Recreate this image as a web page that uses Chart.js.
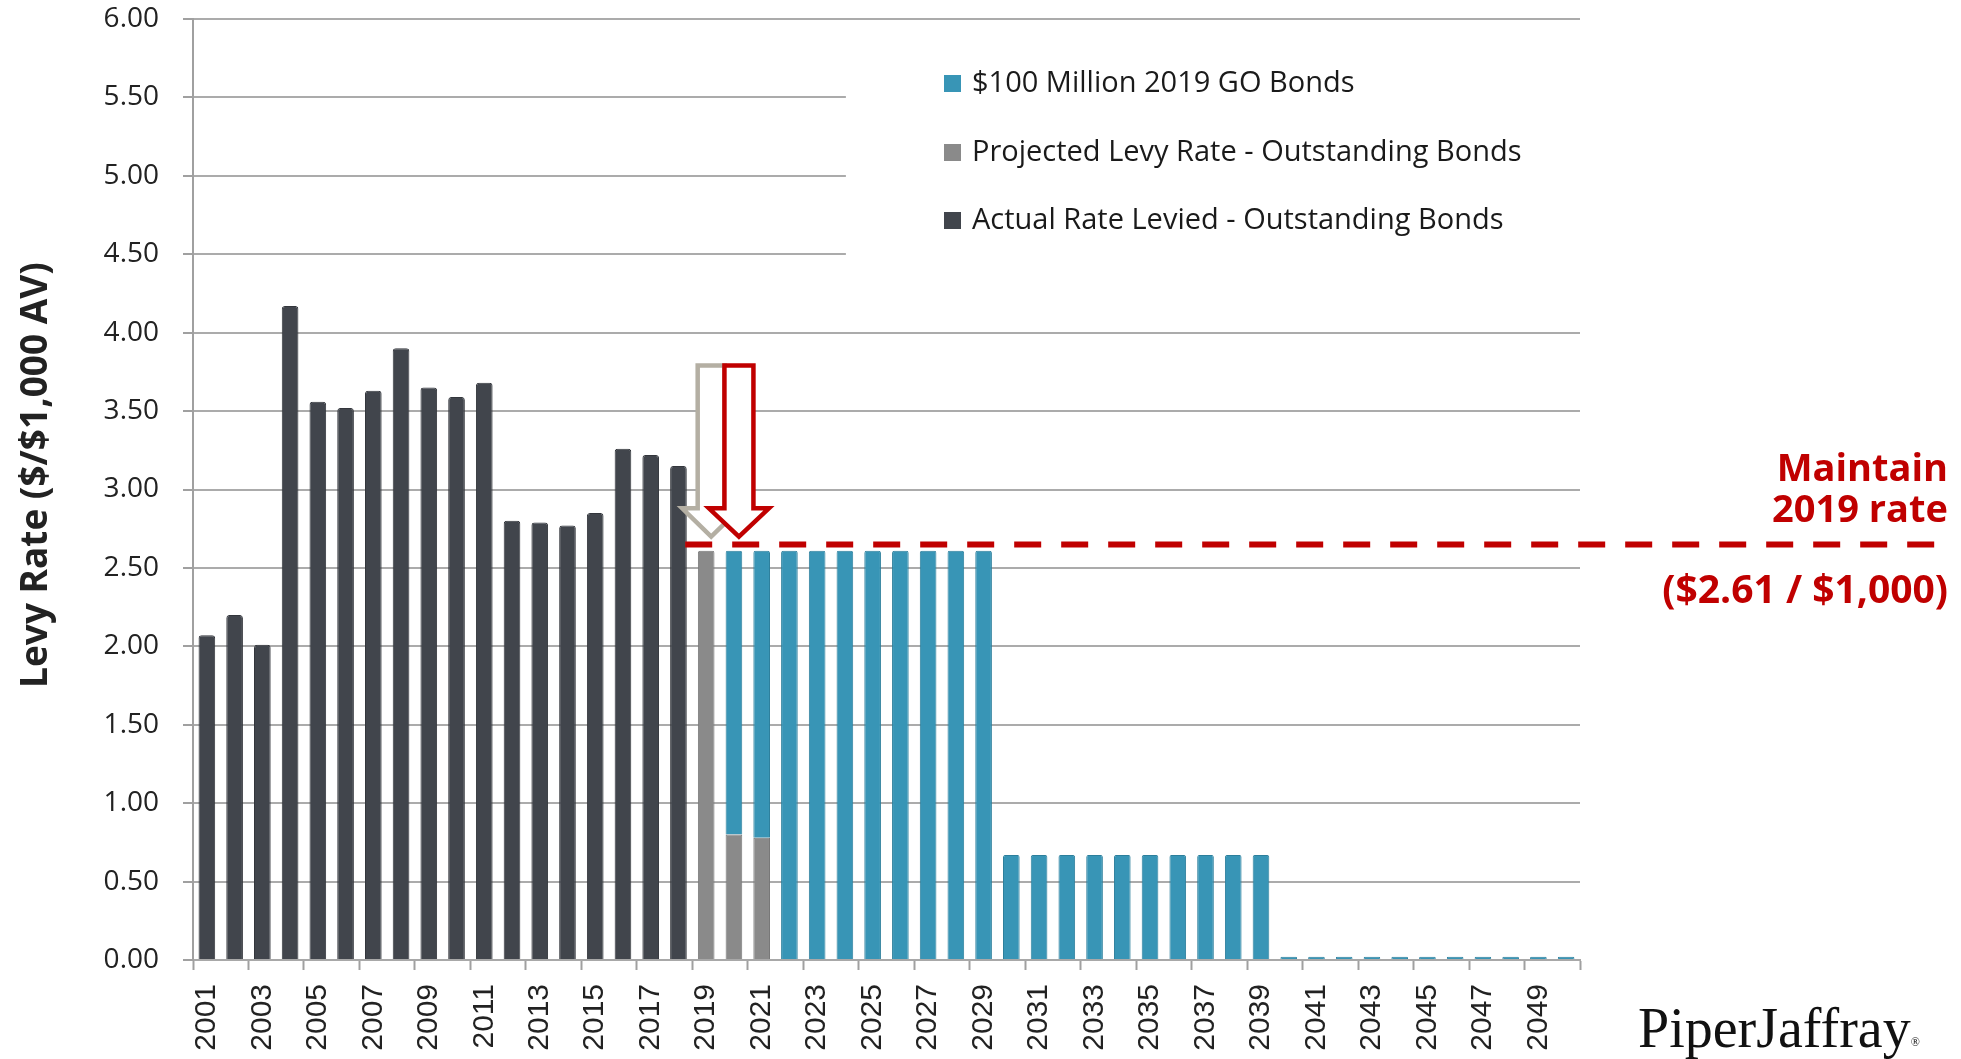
<!DOCTYPE html>
<html><head><meta charset="utf-8">
<script src="https://cdn.jsdelivr.net/npm/chart.js@4.4.1/dist/chart.umd.min.js"></script>
<style>html,body{margin:0;padding:0;background:#fff;}canvas{display:block;}</style>
</head><body>
<canvas id="c" width="1961" height="1059"></canvas>
<script>
const years = ['2001','2002','2003','2004','2005','2006','2007','2008','2009','2010',
  '2011','2012','2013','2014','2015','2016','2017','2018','2019','2020',
  '2021','2022','2023','2024','2025','2026','2027','2028','2029','2030',
  '2031','2032','2033','2034','2035','2036','2037','2038','2039','2040',
  '2041','2042','2043','2044','2045','2046','2047','2048','2049','2050'];

const actualRate = [2.07,2.20,2.01,4.17,3.56,3.52,3.63,3.90,3.65,3.59,
  3.68,2.80,2.79,2.77,2.85,3.26,3.22,3.15,null,null,
  null,null,null,null,null,null,null,null,null,null,
  null,null,null,null,null,null,null,null,null,null,
  null,null,null,null,null,null,null,null,null,null];

const projectedRate = [null,null,null,null,null,null,null,null,null,null,
  null,null,null,null,null,null,null,null,2.61,0.80,
  0.78,null,null,null,null,null,null,null,null,null,
  null,null,null,null,null,null,null,null,null,null,
  null,null,null,null,null,null,null,null,null,null];

const bondRate = [null,null,null,null,null,null,null,null,null,null,
  null,null,null,null,null,null,null,null,null,1.81,
  1.83,2.61,2.61,2.61,2.61,2.61,2.61,2.61,2.61,0.67,
  0.67,0.67,0.67,0.67,0.67,0.67,0.67,0.67,0.67,0.02,
  0.02,0.02,0.02,0.02,0.02,0.02,0.02,0.02,0.02,0.02];

const seriesNames = ['Actual Rate Levied - Outstanding Bonds','Projected Levy Rate - Outstanding Bonds','$100 Million 2019 GO Bonds'];
const maintainRate = 2.65;
const arrowTopRate = 3.79, arrowHeadRate = 2.88, arrowTipRate = 2.70;
const noteLines = ['Maintain','2019 rate'];
const noteValue = '($2.61 / $1,000)';
const logoText = 'PiperJaffray';
const yTitle = 'Levy Rate ($/$1,000 AV)';

const C_DARK = '#41454c', C_GRAY = '#8a8a8a', C_TEAL = '#3895b6', C_RED = '#c00000';

function drawArrow(ctx, cx, yTop, yHead, yTip, shaftHalf, headHalf, stroke) {
  ctx.beginPath();
  ctx.moveTo(cx - shaftHalf, yTop);
  ctx.lineTo(cx + shaftHalf, yTop);
  ctx.lineTo(cx + shaftHalf, yHead);
  ctx.lineTo(cx + headHalf, yHead);
  ctx.lineTo(cx, yTip);
  ctx.lineTo(cx - headHalf, yHead);
  ctx.lineTo(cx - shaftHalf, yHead);
  ctx.closePath();
  ctx.fillStyle = '#fff';
  ctx.fill();
  ctx.lineWidth = 4.5;
  ctx.lineJoin = 'miter';
  ctx.strokeStyle = stroke;
  ctx.stroke();
}

const overlay = {
  id: 'overlay',
  beforeDatasetsDraw(chart) {
    const {ctx} = chart;
    const x = chart.scales.x, y = chart.scales.y;
    ctx.save();
    ctx.fillStyle = '#fff';
    const left = x.getPixelForValue(23) + 1;
    const top = y.getPixelForValue(6) + 7;
    const bottom = y.getPixelForValue(4.2);
    ctx.fillRect(left, top, chart.width - left, bottom - top);
    ctx.restore();
  },
  afterDraw(chart) {
    const {ctx} = chart;
    const x = chart.scales.x, y = chart.scales.y;
    ctx.save();
    // y title
    ctx.save();
    ctx.translate(36, 475);
    ctx.rotate(-Math.PI / 2);
    ctx.font = 'bold 37px "Open Sans"';
    ctx.fillStyle = '#222';
    ctx.textAlign = 'center';
    ctx.textBaseline = 'middle';
    ctx.fillText(yTitle, 0, 0);
    ctx.restore();

    // legend (reverse dataset order)
    const ds = chart.data.datasets.slice().reverse();
    ctx.font = '29px "Open Sans"';
    ctx.textBaseline = 'middle';
    ctx.textAlign = 'left';
    const rows = [83, 152, 220];
    ds.forEach((d, i) => {
      ctx.fillStyle = d.backgroundColor;
      ctx.fillRect(944, rows[i] - 8, 17, 17);
      ctx.fillStyle = '#1a1a1a';
      ctx.fillText(d.label, 972, rows[i] + 1);
    });

    // arrows
    const yTop = y.getPixelForValue(arrowTopRate);
    const yHead = y.getPixelForValue(arrowHeadRate);
    const yTip = y.getPixelForValue(arrowTipRate);
    drawArrow(ctx, x.getPixelForValue(18) + 5, yTop, yHead, yTip, 13.5, 29, '#b4afa3');
    drawArrow(ctx, x.getPixelForValue(19) + 5, yTop, yHead, yTip, 14.5, 30, C_RED);

    // dashed line
    const yl = y.getPixelForValue(maintainRate);
    ctx.beginPath();
    ctx.setLineDash([27, 20]);
    ctx.lineWidth = 6;
    ctx.strokeStyle = C_RED;
    ctx.moveTo(x.getPixelForValue(18) - 21, yl);
    ctx.lineTo(1946, yl);
    ctx.stroke();
    ctx.setLineDash([]);

    // red notes
    ctx.fillStyle = C_RED;
    ctx.textAlign = 'right';
    ctx.font = 'bold 38px "Open Sans"';
    ctx.fillText(noteLines[0], 1948, 470);
    ctx.fillText(noteLines[1], 1948, 511);
    ctx.font = 'bold 39px "Open Sans"';
    ctx.fillText(noteValue, 1948, 592);

    // logo
    ctx.fillStyle = '#111';
    ctx.textAlign = 'left';
    ctx.textBaseline = 'alphabetic';
    ctx.font = '56px "Liberation Serif"';
    ctx.fillText(logoText, 1638, 1047);
    const w = ctx.measureText(logoText).width;
    ctx.font = '12px "Liberation Serif"';
    ctx.fillText('\u00AE', 1638 + w, 1046);
    ctx.restore();
  }
};

new Chart(document.getElementById('c'), {
  type: 'bar',
  data: {
    labels: years,
    datasets: [
      {label: seriesNames[0], data: actualRate, backgroundColor: C_DARK, borderColor: '#33363c', borderWidth: 1, borderRadius: {topLeft: 3, topRight: 3}, borderSkipped: 'bottom'},
      {label: seriesNames[1], data: projectedRate, backgroundColor: C_GRAY, borderColor: '#777', borderWidth: 1, borderRadius: 2, borderSkipped: 'bottom'},
      {label: seriesNames[2], data: bondRate, backgroundColor: C_TEAL, borderColor: '#2c7f9c', borderWidth: 1, borderRadius: 2, borderSkipped: 'bottom'}
    ]
  },
  options: {
    responsive: false,
    animation: false,
    devicePixelRatio: 1,
    layout: {padding: {left: 0, right: 381, top: 19, bottom: 0}},
    datasets: {bar: {barPercentage: 0.6, categoryPercentage: 1.0}},
    plugins: {legend: {display: false}, tooltip: {enabled: false}},
    scales: {
      x: {
        stacked: true,
        afterFit(s) { s.height = 99; s.paddingTop = 0; s.paddingBottom = 0; s.paddingLeft = 0; s.paddingRight = 0; },
        grid: {
          offset: true,
          drawOnChartArea: false,
          drawTicks: true,
          tickLength: 10,
          tickWidth: 2,
          tickColor: (c) => (c.index === undefined || c.index % 2 === 0) ? '#a0a0a0' : 'rgba(0,0,0,0)'
        },
        border: {display: true, color: '#a8a8a8', width: 2},
        ticks: {
          autoSkip: false,
          maxRotation: 90,
          minRotation: 90,
          padding: 14,
          color: '#222',
          font: {family: 'Liberation Sans', size: 30},
          callback: function(v, i) { return i % 2 === 0 ? this.getLabelForValue(v) : ''; }
        }
      },
      y: {
        stacked: true,
        min: 0,
        max: 6,
        afterFit(s) { s.width = 193; s.paddingTop = 0; s.paddingBottom = 0; },
        grid: {color: '#ababab', lineWidth: 2, tickLength: 10, tickColor: '#a0a0a0'},
        border: {display: true, color: '#a0a0a0', width: 2},
        ticks: {
          stepSize: 0.5,
          padding: 24,
          color: '#222',
          font: {family: 'Open Sans', size: 28},
          callback: (v) => Number(v).toFixed(2)
        },
        title: {display: false}
      }
    }
  },
  plugins: [overlay]
});
</script>
</body></html>
